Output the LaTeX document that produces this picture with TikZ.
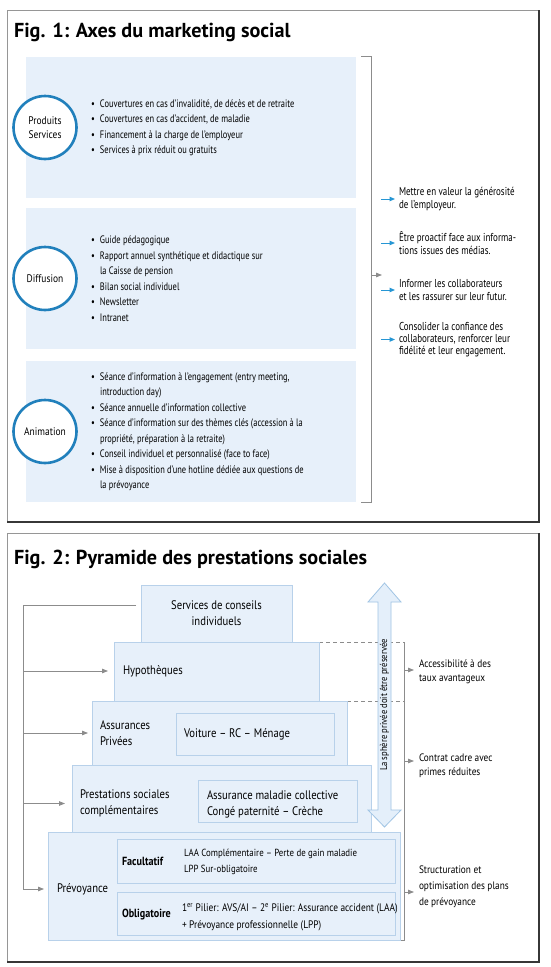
\documentclass[tikz,border=0pt]{standalone}
\usepackage{fontspec}
\setmainfont{PT Sans}
\newfontfamily\cond[FakeStretch=0.86]{PT Sans}
\newfontfamily\condb[FakeStretch=0.78]{PT Sans}
\newfontfamily\titlefont{PT Sans}
\usetikzlibrary{arrows.meta}
\definecolor{boxfill}{RGB}{231,240,250}
\definecolor{boxline}{RGB}{184,209,234}
\definecolor{circblue}{RGB}{33,128,188}
\definecolor{arrblue}{RGB}{38,150,212}
\definecolor{glcol}{RGB}{140,140,140}
\definecolor{framel}{RGB}{150,150,150}
\definecolor{framed}{RGB}{55,55,55}
\definecolor{bigfill}{RGB}{228,239,250}
\definecolor{bigline}{RGB}{160,196,228}
\tikzset{
  frameln/.style={draw=framel, line width=1pt},
  framedk/.style={draw=framed, line width=1.2pt},
  titletxt/.style={anchor=base west, font=\titlefont\bfseries\fontsize{20.2}{23}\selectfont},
  f1box/.style={fill=boxfill, anchor=north west, minimum width=330, minimum height=141},
  circ/.style={circle, draw=circblue, line width=2.6pt, fill=white, minimum size=63, align=center, font=\cond\fontsize{11}{13.5}\selectfont},
  bultxt/.style={anchor=west, align=left, font=\condb\fontsize{10.8}{15.5}\selectfont},
  rtxt/.style={anchor=west, align=left, font=\condb\fontsize{11.5}{12.3}\selectfont},
  gl/.style={draw=glcol, line width=0.8pt},
  garr/.style={draw=glcol, line width=0.8pt, -{Triangle[length=6pt,width=4.5pt]}, color=glcol},
  barr/.style={draw=arrblue, line width=1pt, -{Triangle[length=5.5pt,width=4.5pt]}, color=arrblue},
  pbox/.style={draw=boxline, fill=boxfill, line width=0.8pt, anchor=north west},
  ptxt/.style={anchor=west, align=left, font=\cond\fontsize{12.4}{15.8}\selectfont},
  btxt/.style={anchor=west, align=left, font=\cond\bfseries\fontsize{11.8}{13}\selectfont},
  stxt/.style={anchor=west, align=left, font=\cond\fontsize{10.3}{16.5}\selectfont},
  rtxt2/.style={anchor=west, align=left, font=\cond\fontsize{10.8}{14}\selectfont},
}
\newcommand{\bl}{\makebox[9pt][l]{•}}
\newcommand{\ind}{\hspace*{9pt}}
\begin{document}
\begin{tikzpicture}[x=1pt,y=-1pt, every node/.style={inner sep=0pt, outer sep=0pt}]
\useasboundingbox (0,0) rectangle (550,967);
\fill[white] (0,0) rectangle (550,967);

%% ---------------- Fig. 1 ----------------
\draw[frameln] (7,10) rectangle (539,522);
\draw[framedk] (539,10) -- (539,522) -- (7,522);
\node[titletxt] (t1) at (14,37) {Fig. 1: Axes du marketing social};

\node[f1box] (b1) at (26,57) {};
\node[f1box] (b2) at (26,208) {};
\node[f1box] (b3) at (26,361) {};

\node[circ] (c1) at (45,127.5) {Produits\\Services};
\node[circ] (c2) at (45,278.5) {Diffusion};
\node[circ] (c3) at (45,431.5) {Animation};

\node[bultxt] (l1) at (91,127.8) {\bl Couvertures en cas d’invalidité, de décès et de retraite\\
\bl Couvertures en cas d’accident, de maladie\\
\bl Financement à la charge de l’employeur\\
\bl Services à prix réduit ou gratuits};

\node[bultxt] (l2) at (91,278.5) {\bl Guide pédagogique\\
\bl Rapport annuel synthétique et didactique sur\\
\ind la Caisse de pension\\
\bl Bilan social individuel\\
\bl Newsletter\\
\bl Intranet};

\node[bultxt] (l3) at (91,431.8) {\bl Séance d’information à l’engagement (entry meeting,\\
\ind introduction day)\\
\bl Séance annuelle d’information collective\\
\bl Séance d’information sur des thèmes clés (accession à la\\
\ind propriété, préparation à la retraite)\\
\bl Conseil individuel et personnalisé (face to face)\\
\bl Mise à disposition d’une hotline dédiée aux questions de\\
\ind la prévoyance};

% bracket
\coordinate (brt) at (371,56);
\coordinate (brb) at (371,502);
\coordinate (brm) at (371,275);
\draw[gl] (361,56) -- (brt) -- (brb) -- (361,502);
\coordinate (gtip) at (382,275);
\draw[garr] (brm) -- (gtip);

\node[rtxt] (r1) at (399,199) {Mettre en valeur la générosité\\de l’employeur.};
\node[rtxt] (r2) at (399,243) {Être proactif face aux informa-\\tions issues des médias.};
\node[rtxt] (r3) at (399,290) {Informer les collaborateurs\\et les rassurer sur leur futur.};
\node[rtxt] (r4) at (399,339.5) {Consolider la confiance des\\collaborateurs, renforcer leur\\fidélité et leur engagement.};
\foreach \r in {r1,r2,r3,r4}{
  \draw[barr] ([xshift=-18pt]\r.west) -- ([xshift=-4pt]\r.west);
}

%% ---------------- Fig. 2 ----------------
\draw[frameln] (7,533) rectangle (539,962);
\draw[framedk] (539,533) -- (539,962) -- (7,962);
\node[titletxt] (t2) at (14,564) {Fig. 2: Pyramide des prestations sociales};

% dashed guides and right bracket
\coordinate (rtop) at (404,642);
\coordinate (rbot) at (404,940);
\draw[gl, dashed, dash pattern=on 4pt off 3pt] (319,642) -- (rtop);
\draw[gl, dashed, dash pattern=on 4pt off 3pt] (347,701) -- (404,701);
\draw[gl] (rtop) -- (rbot) -- (400,940);

% pyramid boxes
\node[pbox, minimum width=151, minimum height=57] (serv) at (141,585) {};
\node[pbox, minimum width=205, minimum height=59] (hypo) at (114,642) {};
\node[pbox, minimum width=255, minimum height=64] (assu) at (92,701) {};
\node[pbox, minimum width=299, minimum height=67] (pres) at (72,765) {};
\node[pbox, minimum width=352, minimum height=108] (prev) at (48,832) {};
\node[pbox, minimum width=158, minimum height=42] (voit) at (176,713) {};
\node[pbox, minimum width=159, minimum height=42] (mala) at (198,780) {};
\node[pbox, minimum width=278, minimum height=44] (facu) at (117,839) {};
\node[pbox, minimum width=278, minimum height=43] (obli) at (117,892) {};

\node[ptxt, anchor=center, align=center] (servt) at (serv.center) {Services de conseils\\individuels};
\node[ptxt] (hypot) at (123,671) {Hypothèques};
\node[ptxt] (assut) at (100,733) {Assurances\\Privées};
\node[ptxt] (voitt) at (184,734) {Voiture – RC – Ménage};
\node[ptxt] (prest) at (80,803.5) {Prestations sociales\\complémentaires};
\node[ptxt] (malat) at (207,804.5) {Assurance maladie collective\\Congé paternité – Crèche};
\node[ptxt] (prevt) at (57,889) {Prévoyance};
\node[btxt] (facut) at (122,861) {Facultatif};
\node[stxt] (facud) at (184,862) {LAA Complémentaire – Perte de gain maladie\\LPP Sur-obligatoire};
\node[btxt] (oblit) at (122,915) {Obligatoire};
\node[stxt, font=\cond\fontsize{10.9}{17}\selectfont] (oblid) at (182,917.5) {1\textsuperscript{er} Pilier: AVS/AI – 2\textsuperscript{e} Pilier: Assurance accident (LAA)\\+ Prévoyance professionnelle (LPP)};

% big double arrow
\draw[draw=bigline, fill=bigfill, line width=0.8pt]
  (384.5,583) -- (401,602) -- (391,602) -- (391,810) -- (401,810) -- (384.5,827)
  -- (368,810) -- (378,810) -- (378,602) -- (368,602) -- cycle;
\node[rotate=90, font=\cond\fontsize{10}{11}\selectfont] (sphere) at (384.5,705) {La sphère privée doit être préservée};

% left connectors
\coordinate (lt) at (136,605);
\coordinate (lc) at (23,605);
\coordinate (lb) at (23,889);
\draw[gl] (lt) -- (lc) -- (lb);
\draw[garr] (lc |- hypot.west) -- ([xshift=-15pt]hypot.west);
\draw[garr] (lc |- assut.west) -- ([xshift=-12pt]assut.west);
\draw[garr] (lc |- prest.west) -- ([xshift=-15pt]prest.west);
\draw[garr] (lb) -- ([xshift=-13pt]prevt.west);

% right texts
\node[rtxt2] (acc) at (419,672) {Accessibilité à des\\taux avantageux};
\node[rtxt2] (con) at (419,766) {Contrat cadre avec\\primes réduites};
\node[rtxt2, font=\cond\fontsize{10.8}{16}\selectfont] (str) at (419,887) {Structuration et\\optimisation des plans\\de prévoyance};
\coordinate (ra1) at (404,670);
\coordinate (ra2) at (404,761);
\coordinate (ra3) at (404,892);
\draw[garr] (ra1) -- (ra1 -| 414,0);
\draw[garr] (ra2) -- (ra2 -| 414,0);
\draw[garr] (ra3) -- (ra3 -| 414,0);
\end{tikzpicture}
\end{document}
